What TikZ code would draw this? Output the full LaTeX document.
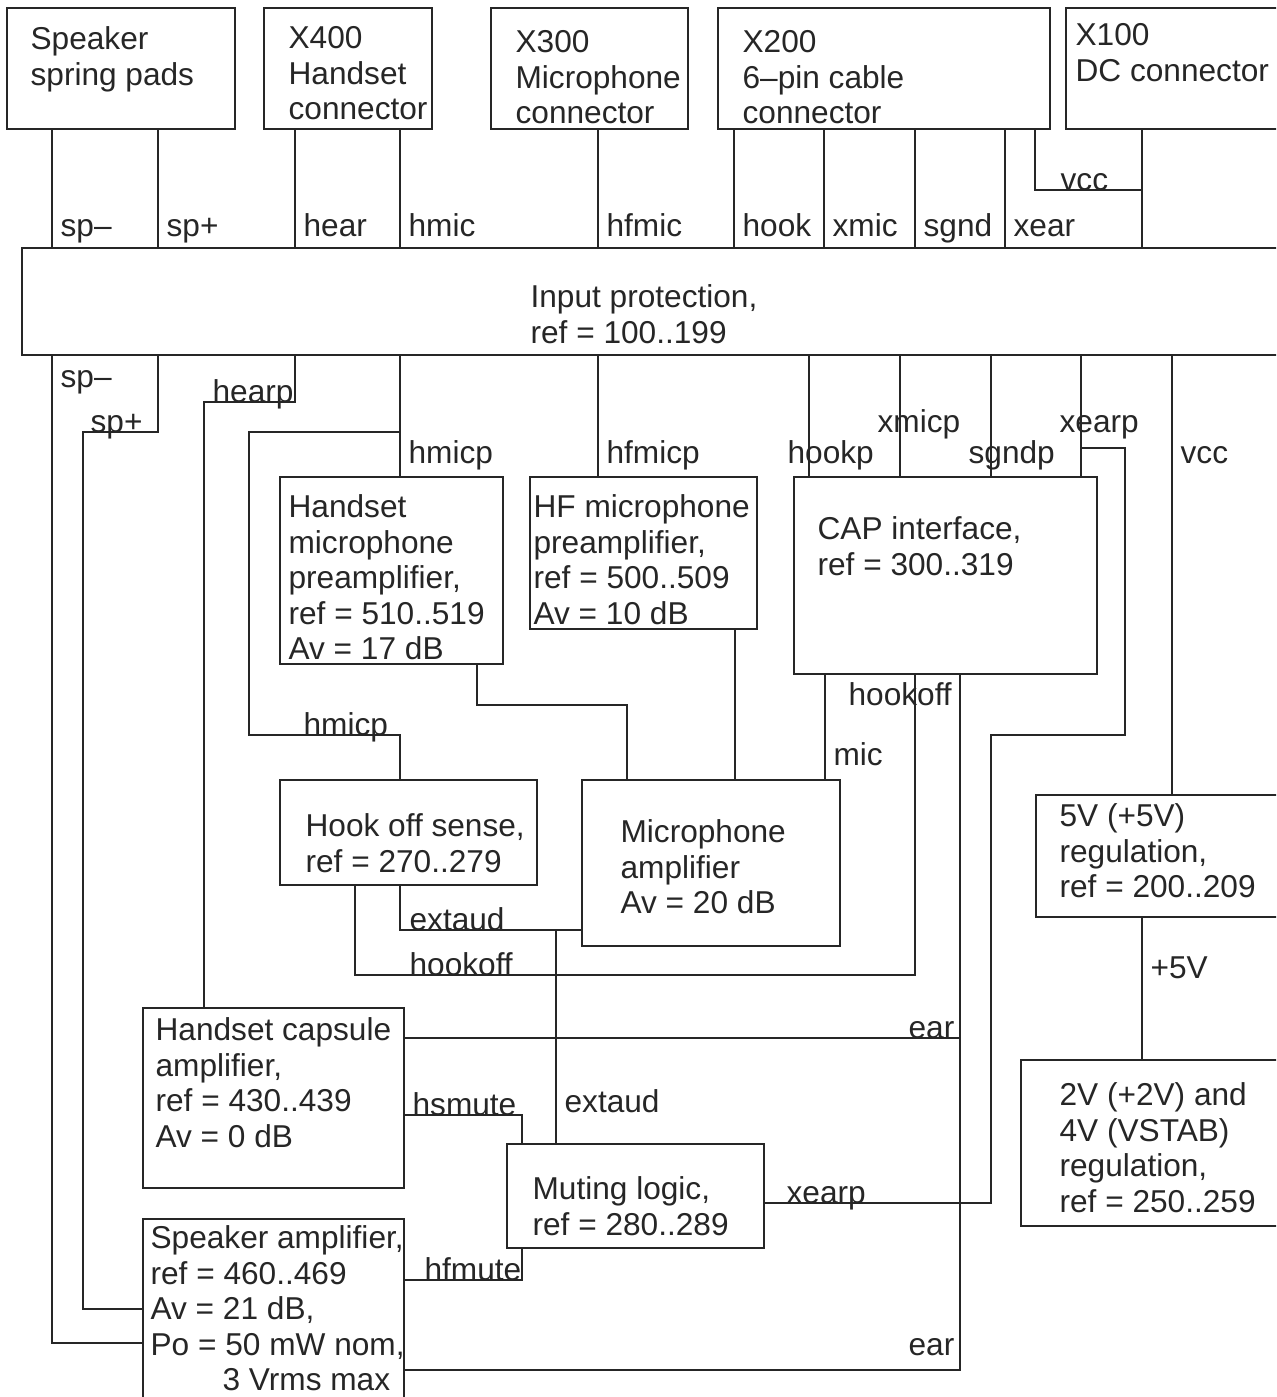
\documentclass[tikz,border=0pt]{standalone}
\usepackage{fontspec}
\setmainfont{Liberation Sans}
\usetikzlibrary{fit}
\begin{document}
\begin{tikzpicture}[x=0.02cm,y=-0.02cm,line width=0.7pt,black!85,
        blk/.style={draw,inner sep=0pt,outer sep=0pt},
        txt/.style={inner sep=0pt,align=left,anchor=north west,font=\fontsize{18}{20.2}\selectfont},
        lbl/.style={inner sep=0pt,anchor=base west,font=\fontsize{18}{20.2}\selectfont}]
    \useasboundingbox (0,0) rectangle (1276,1397);
    \clip (0,0) rectangle (1276,1397);

    % blocks
    \node[blk,fit={(7,8) (235,129)}] (spk) {};
    \node[blk,fit={(264,8) (432,129)}] (x400) {};
    \node[blk,fit={(491,8) (688,129)}] (x300) {};
    \node[blk,fit={(718,8) (1050,129)}] (x200) {};
    \node[blk,fit={(1066,8) (1290,129)}] (x100) {};
    \node[blk,fit={(22,248) (1290,355)}] (inp) {};
    \node[blk,fit={(280,477) (503,664)}] (hmp) {};
    \node[blk,fit={(530,477) (757,629)}] (hfp) {};
    \node[blk,fit={(794,477) (1097,674)}] (cap) {};
    \node[blk,fit={(280,780) (537,885)}] (hos) {};
    \node[blk,fit={(582,780) (840,946)}] (mca) {};
    \node[blk,fit={(1036,795) (1290,917)}] (reg5) {};
    \node[blk,fit={(1021,1060) (1290,1226)}] (reg2) {};
    \node[blk,fit={(143,1008) (404,1188)}] (hca) {};
    \node[blk,fit={(507,1144) (764,1248)}] (mut) {};
    \node[blk,fit={(143,1219) (404,1410)}] (spa) {};

    \node[txt] (spk-t) at (30,26) {Speaker\\spring pads};
    \node[txt] (x400-t) at (288,26) {X400\\Handset\\connector};
    \node[txt] (x300-t) at (515,30) {X300\\Microphone\\connector};
    \node[txt] (x200-t) at (742,30) {X200\\6–pin cable\\connector};
    \node[txt] (x100-t) at (1075,23) {X100\\DC connector};
    \node[txt] (inp-t) at (530,284) {Input protection,\\ref = 100..199};
    \node[txt] (hmp-t) at (288,494) {Handset\\microphone\\preamplifier,\\ref = 510..519\\Av = 17 dB};
    \node[txt] (hfp-t) at (533,494) {HF microphone\\preamplifier,\\ref = 500..509\\Av = 10 dB};
    \node[txt] (cap-t) at (817,516) {CAP interface,\\ref = 300..319};
    \node[txt] (hos-t) at (305,813) {Hook off sense,\\ref = 270..279};
    \node[txt] (mca-t) at (620,819) {Microphone\\amplifier\\Av = 20 dB};
    \node[txt] (reg5-t) at (1059,803) {5V (+5V)\\regulation,\\ref = 200..209};
    \node[txt] (reg2-t) at (1059,1082) {2V (+2V) and\\4V (VSTAB)\\regulation,\\ref = 250..259};
    \node[txt] (hca-t) at (155,1017) {Handset capsule\\amplifier,\\ref = 430..439\\Av = 0 dB};
    \node[txt] (mut-t) at (532,1176) {Muting logic,\\ref = 280..289};
    \node[txt] (spa-t) at (150,1225) {Speaker amplifier,\\ref = 460..469\\Av = 21 dB,\\Po = 50 mW nom,\\\hspace*{1.44cm}3 Vrms max};

    % signal lanes and rows
    \foreach \n/\x in {spm/52,spp/158,spq/83,hear/295,hearq/204,hmic/400,hmicq/249,
            hfmic/598,hook/734,xmic/824,sgnd/915,xear/1005,vcca/1035,vcc/1142,
            hookp/809,xmicp/900,sgndp/991,xearp/1081,xearq/1125,xearr/991,vccp/1172,
            hmo/477,mao/627,hfo/735,mic/825,hkoff/915,ear/960,hosl/355,ext/400,
            extb/556,mute/522,p5/1142}
        \coordinate (\n) at (\x,0);
    \foreach \n/\y in {rvcc/190,rspm/1343,rspp/432,rspq/1309,rhear/402,rhmic/432,
            rhmicq/735,rxear/448,rxearq/735,rxearr/1203,rhmo/705,rext/930,rhk/975,
            rear/1038,rearq/1370,rhsm/1115,rhfm/1280}
        \coordinate (\n) at (0,\y);

    % connectors into input protection
    \foreach \l in {spm,spp}
        \draw (spk.south -| \l) -- (inp.north -| \l);
    \foreach \l in {hear,hmic}
        \draw (x400.south -| \l) -- (inp.north -| \l);
    \draw (x300.south -| hfmic) -- (inp.north -| hfmic);
    \foreach \l in {hook,xmic,sgnd,xear}
        \draw (x200.south -| \l) -- (inp.north -| \l);
    \draw (x200.south -| vcca) |- (vcc |- rvcc);
    \draw (x100.south -| vcc) -- (inp.north -| vcc);

    % protected signals
    \draw (inp.south -| spm) |- (spa.west |- rspm);
    \draw (inp.south -| spp) |- (spq |- rspp) |- (spa.west |- rspq);
    \draw (inp.south -| hear) |- (hearq |- rhear) -- (hca.north -| hearq);
    \draw (inp.south -| hmic) -- (hmp.north -| hmic);
    \draw (hmic |- rhmic) -| (hmicq |- rhmicq) -| (hos.north -| hmic);
    \draw (inp.south -| hfmic) -- (hfp.north -| hfmic);
    \foreach \l in {hookp,xmicp,sgndp,xearp}
        \draw (inp.south -| \l) -- (cap.north -| \l);
    \draw (xearp |- rxear) -| (xearq |- rxearq) -| (xearr |- rxearr) -- (mut.east |- rxearr);
    \draw (inp.south -| vccp) -- (reg5.north -| vccp);

    % internal signals
    \draw (hmp.south -| hmo) |- (mao |- rhmo) -- (mca.north -| mao);
    \draw (hfp.south -| hfo) -- (mca.north -| hfo);
    \draw (cap.south -| mic) -- (mca.north -| mic);
    \draw (cap.south -| hkoff) |- (hosl |- rhk) -- (hos.south -| hosl);
    \draw (cap.south -| ear) |- (spa.east |- rearq);
    \draw (hca.east |- rear) -- (ear |- rear);
    \draw (hos.south -| ext) |- (mca.west |- rext);
    \draw (extb |- rext) -- (mut.north -| extb);
    \draw (hca.east |- rhsm) -| (mut.north -| mute);
    \draw (spa.east |- rhfm) -| (mut.south -| mute);
    \draw (reg5.south -| p5) -- (reg2.north -| p5);

    % signal names
    \foreach \t/\x/\y [count=\i] in {sp–/60/236,sp+/166/236,hear/303/236,hmic/408/236,
            hfmic/606/236,hook/742/236,xmic/832/236,sgnd/923/236,xear/1013/236,vcc/1060/190,
            sp–/60/387,sp+/90/432,hearp/212/402,hmicp/408/463,hfmicp/606/463,hookp/787/463,
            xmicp/877/432,sgndp/968/463,xearp/1059/432,vcc/1180/463,hookoff/848/705,
            mic/833/765,hmicp/303/735,extaud/409/930,hookoff/409/975,ear/908/1038,
            extaud/564/1112,hsmute/412/1115,xearp/786/1203,hfmute/424/1280,ear/908/1355,
            +5V/1150/978}
        \node[lbl] (lab\i) at (\x,\y) {\t};
\end{tikzpicture}
\end{document}
